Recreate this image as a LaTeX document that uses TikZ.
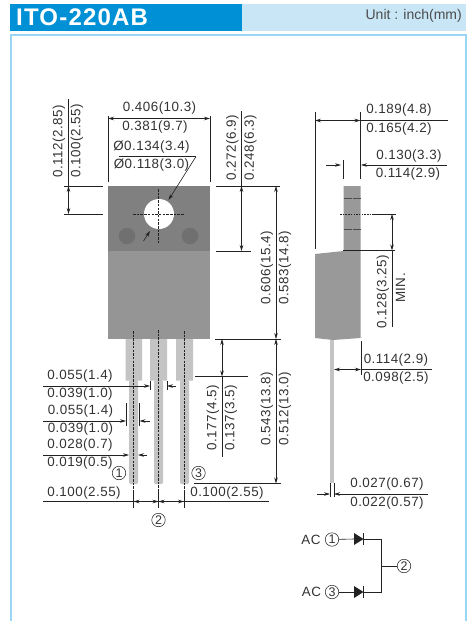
\documentclass[tikz,border=0pt]{standalone}
\usepackage{fontspec}
\setmainfont{Liberation Sans}
\usetikzlibrary{arrows.meta}
\definecolor{hdark}{HTML}{0090D6}
\definecolor{hlight}{HTML}{C8E6F6}
\definecolor{fr}{HTML}{9AD6F4}
\definecolor{tabg}{HTML}{808080}
\definecolor{bodyg}{HTML}{959595}
\definecolor{leadg}{HTML}{C4C4C4}
\definecolor{sideg}{HTML}{999999}
\definecolor{holeg}{HTML}{707070}
\definecolor{ln}{HTML}{222222}
\tikzset{
 x=1pt,y=-1pt,
 dim/.style={line width=0.6pt,draw=ln},
 ar/.style={dim,-{Stealth[length=6pt,width=3.5pt]}},
 arr/.style={dim,{Stealth[length=6pt,width=3.5pt]}-{Stealth[length=6pt,width=3.5pt]}},
 ra/.style={dim,{Stealth[length=6pt,width=3.5pt]}-},
 cl/.style={line width=0.5pt,draw=ln,dash pattern=on 2.5pt off 1.2pt},
 lab/.style={inner sep=0pt,font=\fontsize{13.4}{15}\selectfont\addfontfeature{LetterSpace=3.6},text=black!80},
 vlab/.style={lab,rotate=90},
 num/.style={circle,draw=ln,line width=0.5pt,inner sep=0pt,minimum size=13.5pt,font=\fontsize{12.5}{13}\selectfont,text=black!80},
}
\begin{document}
\begin{tikzpicture}
\useasboundingbox (0,0) rectangle (467,621);
\fill[white] (0,0) rectangle (467,621);
% header
\fill[hlight] (242,4) rectangle (466,31);
\fill[hdark] (10,4) rectangle (242,31);
\node[anchor=west,inner sep=0pt,text=white,font=\fontsize{24}{25}\bfseries\selectfont\addfontfeature{LetterSpace=5}] (title) at (16,17) {ITO-220AB};
\node[anchor=east,inner sep=0pt,font=\fontsize{14}{15}\selectfont,text=black!70] (unit) at (462,16) {Unit : inch(mm)};
\draw[fr,line width=1.6pt] (11,620.5) -- (11,35) -- (466,35) -- (466,620.5);
% leads front
\fill[leadg] (125.5,339) rectangle (142,380.5) (150,339) rectangle (167,380.5) (176,339) rectangle (193,380.5);
\fill[leadg,rounded corners=1.5pt] (129,380) rectangle (138,484) (154,380) rectangle (163,484) (180,380) rectangle (189,484);
% body
\fill[bodyg] (108,250) rectangle (210,339);
\fill[tabg] (108,186) rectangle (210,251);
\fill[holeg] (127,236) circle (8.3) (190,236) circle (8.3);
\fill[white] (159,214) circle (15);
% centre lines
\draw[cl] (158.5,189) -- (158.5,243);
\draw[cl] (133,214) -- (184,214);
\draw[cl] (133.5,331) -- (133.5,492);
\draw[cl] (158.5,330) -- (158.5,492);
\draw[cl] (184,331) -- (184,492);
% side view
\fill[sideg] (343.5,186) -- (360.5,186) -- (360.5,250.5) -- (360.5,338) -- (333,340) -- (315,338) -- (315,254) -- (343.5,251) -- cycle;
\fill[leadg] (330,340) rectangle (333.5,483);
\draw[cl,draw=black!70,dash pattern=on 8pt off 1pt] (343.5,198) -- (360.5,198) (343.5,229.5) -- (360.5,229.5);
\draw[cl,dash pattern=on 1.5pt off 1.2pt] (340,214) -- (373,214);
% top width
\draw[dim] (108,116) -- (108,182) (210,116) -- (210,182);
\draw[arr] (108,118.5) -- (210,118.5);
\node[lab] (a1) at (159.5,108.5) {0.406(10.3)};
\node[lab] (a2) at (155,127) {0.381(9.7)};
% hole label
\node[lab] (h1) at (151.5,147) {Ø0.134(3.4)};
\node[lab] (h2) at (151.5,165) {Ø0.118(3.0)};
\coordinate (hk) at (196,156.5);
\draw[dim] (119,156.5) -- (hk);
\draw[ar] (hk) -- (168.5,200);
\draw[ar] (143.5,241) -- (150,231);
% left 0.112
\draw[dim] (68.5,99) -- (68.5,186);
\draw[arr] (68.5,186) -- (68.5,214);
\draw[dim] (64,186) -- (103,186) (64,214) -- (103,214);
\node[vlab] (b1) at (59,141) {0.112(2.85)};
\node[vlab] (b2) at (77,141) {0.100(2.55)};
% right 0.272
\draw[dim] (241.5,111) -- (241.5,186);
\draw[dim] (216,186) -- (280,186);
\draw[arr] (241.5,186) -- (241.5,251);
\draw[dim] (216,251) -- (251,251);
\node[vlab] (c1) at (232.5,148) {0.272(6.9)};
\node[vlab] (c2) at (250.5,148) {0.248(6.3)};
% 0.606
\draw[arr] (276,186) -- (276,339);
\draw[arr] (276,339) -- (276,483.5);
\draw[dim] (215,339) -- (281,339);
\draw[dim] (194,483.5) -- (281,483.5);
\node[vlab] (d1) at (267,268) {0.606(15.4)};
\node[vlab] (d2) at (285,268) {0.583(14.8)};
\node[vlab] (e1) at (267,409) {0.543(13.8)};
\node[vlab] (e2) at (285,409) {0.512(13.0)};
% 0.177
\draw[arr] (222,339) -- (222,376.5);
\draw[dim] (195,376.5) -- (248,376.5);
\draw[dim] (222,376.5) -- (222,457);
\node[vlab] (f1) at (213,418) {0.177(4.5)};
\node[vlab] (f2) at (231,418) {0.137(3.5)};
% lead dims left
\draw[ar] (43,386) -- (150,386);
\draw[dim] (150,381) -- (150,390) (167,381) -- (167,390);
\draw[ra] (167,386) -- (176,386);
\node[lab] (g1) at (80,376.5) {0.055(1.4)};
\node[lab] (g2) at (80,394.5) {0.039(1.0)};
\draw[ar] (43,421) -- (126,421);
\draw[dim] (126,403) -- (126,426) (139.5,403) -- (139.5,426);
\draw[ra] (139.5,421) -- (150,421);
\node[lab] (g3) at (80.5,411) {0.055(1.4)};
\node[lab] (g4) at (80.5,429) {0.039(1.0)};
\draw[ar] (43,455) -- (129,455);
\draw[ra] (138,455) -- (147,455);
\node[lab] (g5) at (80,445) {0.028(0.7)};
\node[lab] (g6) at (80,463) {0.019(0.5)};
\node[num] (n1) at (119,473) {1};
\node[num] (n3) at (198.5,473) {3};
% pitch
\draw[dim] (43,501.5) -- (269,501.5);
\draw[dim] (133.5,492) -- (133.5,508) (158.5,492) -- (158.5,508) (184,492) -- (184,508);
\draw[arr] (133.5,501.5) -- (158.5,501.5);
\draw[arr] (158.5,501.5) -- (184,501.5);
\node[lab] (p1) at (84,493) {0.100(2.55)};
\node[lab] (p2) at (227,493) {0.100(2.55)};
\node[num] (n2) at (158.5,520) {2};
% side dims
\draw[dim] (315,112) -- (315,249);
\draw[dim] (360.5,112) -- (360.5,179);
\draw[arr] (315,120.5) -- (360.5,120.5);
\draw[dim] (360.5,120.5) -- (448,120.5);
\node[lab] (s1) at (399,110) {0.189(4.8)};
\node[lab] (s2) at (399,129) {0.165(4.2)};
\draw[ar] (326,165) -- (341,165);
\draw[dim] (343,160) -- (343,179);
\draw[ra] (361,165) -- (447,165);
\node[lab] (s3) at (409,156) {0.130(3.3)};
\node[lab] (s4) at (408,174.5) {0.114(2.9)};
\draw[dim] (373,214) -- (396,214);
\draw[dim] (343,250.5) -- (395,250.5);
\draw[arr] (392,214) -- (392,250.5);
\draw[dim] (392,250.5) -- (392,327);
\node[vlab] (m1) at (383,292) {0.128(3.25)};
\node[vlab] (m2) at (400.5,288) {MIN.};
\draw[dim] (361,341) -- (361,375);
\draw[arr] (334,369.5) -- (361,369.5);
\draw[dim] (361,369.5) -- (432,369.5);
\node[lab] (t1) at (396,360) {0.114(2.9)};
\node[lab] (t2) at (396,378) {0.098(2.5)};
\draw[dim] (330,483) -- (330,497) (334,483) -- (334,497);
\draw[ar] (317,494) -- (330,494);
\draw[ra] (334,494) -- (428,494);
\node[lab] (u1) at (387,484.5) {0.027(0.67)};
\node[lab] (u2) at (387,503) {0.022(0.57)};
% circuit
\node[lab] (ac1) at (311,540) {AC};
\node[num] (c1n) at (332,539.5) {1};
\node[lab] (ac3) at (311.5,592) {AC};
\node[num] (c3n) at (332,592) {3};
\node[num] (c2n) at (404,566) {2};
\coordinate (k1) at (363.5,539);
\coordinate (k3) at (363.5,592);
\coordinate (j) at (381.5,566);
\draw[dim] (c1n) -- (354,539);
\draw[dim] (c3n) -- (354,592);
\fill[ln] (354,533) -- (363.5,539) -- (354,545) -- cycle;
\fill[ln] (354,586) -- (363.5,592) -- (354,598) -- cycle;
\draw[dim] (363.5,533) -- (363.5,545) (363.5,586) -- (363.5,598);
\draw[dim] (k1) -- (381.5,539) -- (381.5,592) -- (k3);
\draw[dim] (j) -- (c2n);
\end{tikzpicture}
\end{document}
